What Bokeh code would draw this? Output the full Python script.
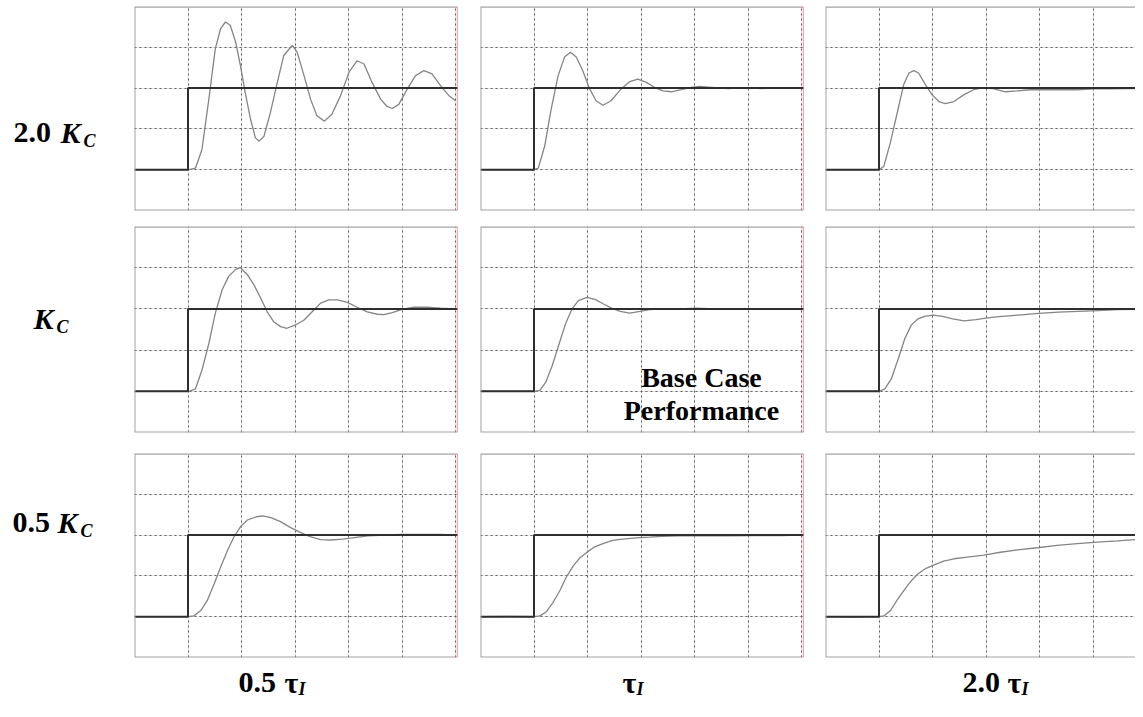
from bokeh.plotting import figure
from bokeh.models import Range1d, Span, Grid, FixedTicker
from bokeh.layouts import row, column
from bokeh.embed import file_html
from bokeh.resources import INLINE
from bokeh.core.properties import value

# ---------------- data ----------------
row_labels = ["2.0", "", "0.5"]          # multiplier of K_C per row
col_labels = ["0.5", "", "2.0"]          # multiplier of tau_I per column
annotation_lines = ["Base Case", "Performance"]

setpoint_t = [0, 1, 1, 6.1]
setpoint_y = [1, 1, 3, 3]

# row 1 : 2.0 Kc
r1c1_t = [0, 0.5, 1.02, 1.14, 1.26, 1.39, 1.51, 1.61, 1.70, 1.79, 1.89, 1.98, 2.07, 2.17, 2.26, 2.33, 2.42, 2.54, 2.67, 2.79, 2.95, 3.04,
          3.17, 3.29, 3.41, 3.55, 3.69, 3.85, 4.01, 4.16, 4.29, 4.44, 4.60, 4.72, 4.82, 4.94, 5.10, 5.25, 5.41, 5.56, 5.72, 5.88, 6.00]
r1c1_y = [1, 1, 1, 1.04, 1.49, 2.73, 3.96, 4.46, 4.62, 4.54, 4.13, 3.55, 2.89, 2.23, 1.78, 1.70, 1.82, 2.40, 3.14, 3.80, 4.05, 3.88,
          3.30, 2.73, 2.32, 2.19, 2.36, 2.81, 3.39, 3.67, 3.59, 3.14, 2.73, 2.55, 2.50, 2.60, 2.98, 3.30, 3.43, 3.35, 3.06, 2.81, 2.69]
r1c2_t = [0, 0.5, 1.0, 1.08, 1.20, 1.32, 1.45, 1.57, 1.68, 1.79, 1.91, 2.04, 2.16, 2.29, 2.44, 2.63, 2.79, 2.94, 3.10, 3.25,
          3.41, 3.57, 3.75, 3.94, 4.10, 4.31, 4.63, 4.94, 5.25, 5.56, 5.87, 6.0]
r1c2_y = [1, 1, 1, 1.04, 1.58, 2.48, 3.30, 3.76, 3.88, 3.76, 3.43, 2.98, 2.69, 2.58, 2.69, 2.98, 3.16, 3.22, 3.14, 3.02,
          2.93, 2.91, 2.96, 3.02, 3.04, 3.02, 2.99, 3.01, 2.99, 3.01, 3.0, 3.0]
r1c3_t = [0, 0.5, 1.0, 1.09, 1.21, 1.34, 1.46, 1.56, 1.65, 1.74, 1.87, 1.99, 2.12, 2.24, 2.40, 2.59, 2.77, 2.96, 3.15, 3.36,
          3.58, 3.83, 4.08, 4.39, 4.70, 5.02, 5.33, 5.64, 5.92]
r1c3_y = [1, 1, 1, 1.08, 1.65, 2.39, 3.08, 3.37, 3.43, 3.37, 3.08, 2.84, 2.67, 2.62, 2.67, 2.84, 2.96, 3.01, 2.98, 2.91,
          2.93, 2.96, 2.96, 2.96, 2.96, 2.98, 2.98, 2.99, 2.99]

# row 2 : Kc
r2c1_t = [0, 0.5, 1.02, 1.14, 1.26, 1.39, 1.51, 1.64, 1.76, 1.89, 1.98, 2.11, 2.23, 2.36, 2.48, 2.60, 2.73, 2.85, 3.01, 3.17,
          3.32, 3.48, 3.63, 3.79, 3.98, 4.16, 4.35, 4.54, 4.66, 4.82, 5.00, 5.22, 5.47, 5.72, 6.0]
r2c1_y = [1, 1, 1, 1.06, 1.51, 2.16, 2.89, 3.47, 3.79, 3.96, 4.0, 3.83, 3.59, 3.26, 2.93, 2.69, 2.57, 2.53, 2.61, 2.73,
          2.93, 3.14, 3.22, 3.22, 3.16, 3.04, 2.93, 2.87, 2.86, 2.91, 2.99, 3.04, 3.04, 3.02, 3.0]
r2c2_t = [0, 0.5, 1.0, 1.11, 1.22, 1.34, 1.46, 1.59, 1.71, 1.83, 1.99, 2.14, 2.30, 2.45, 2.61, 2.79, 2.98, 3.16, 3.41, 3.72,
          4.02, 4.40, 4.77, 5.14, 5.51, 6.0]
r2c2_y = [1, 1, 1, 1.02, 1.22, 1.62, 2.11, 2.64, 3.0, 3.20, 3.28, 3.23, 3.12, 3.02, 2.94, 2.90, 2.94, 2.98, 3.0, 3.0,
          3.02, 3.0, 3.0, 3.0, 3.0, 3.0]
r2c3_t = [0, 0.5, 1.0, 1.11, 1.23, 1.36, 1.48, 1.60, 1.73, 1.85, 2.01, 2.19, 2.38, 2.59, 2.81, 3.06, 3.30, 3.61, 3.98, 4.35,
          4.72, 5.09, 5.46, 5.96]
r2c3_y = [1, 1, 1, 1.06, 1.30, 1.79, 2.27, 2.60, 2.76, 2.82, 2.85, 2.82, 2.76, 2.71, 2.74, 2.79, 2.82, 2.85, 2.89, 2.92,
          2.94, 2.96, 2.98, 2.99]

# row 3 : 0.5 Kc
r3c1_t = [0, 0.5, 1.0, 1.11, 1.24, 1.36, 1.49, 1.61, 1.74, 1.86, 1.99, 2.11, 2.28, 2.40, 2.55, 2.73, 2.91, 3.11, 3.28, 3.48,
          3.67, 3.89, 4.11, 4.36, 4.67, 4.98, 5.36, 5.73, 6.0]
r3c1_y = [1, 1, 1, 1.02, 1.15, 1.40, 1.81, 2.22, 2.63, 2.96, 3.22, 3.37, 3.45, 3.47, 3.43, 3.33, 3.19, 3.06, 2.96, 2.89,
          2.88, 2.90, 2.94, 2.98, 3.0, 3.02, 3.02, 3.02, 3.0]
r3c2_t = [0, 0.5, 1.0, 1.11, 1.23, 1.35, 1.48, 1.60, 1.73, 1.85, 1.98, 2.13, 2.29, 2.47, 2.66, 2.91, 3.16, 3.40, 3.71, 4.15,
          4.65, 5.14, 5.64, 5.98]
r3c2_y = [1, 1.01, 1, 1.02, 1.12, 1.34, 1.63, 1.96, 2.24, 2.43, 2.57, 2.71, 2.79, 2.87, 2.90, 2.93, 2.95, 2.97, 2.98, 2.98,
          2.98, 2.99, 2.99, 3.0]
r3c3_t = [0, 0.5, 1.0, 1.09, 1.22, 1.34, 1.47, 1.59, 1.72, 1.87, 2.03, 2.21, 2.40, 2.65, 2.96, 3.27, 3.59, 3.96, 4.33, 4.71,
          5.08, 5.46, 5.92]
r3c3_y = [1, 0.99, 1, 1.02, 1.16, 1.41, 1.65, 1.86, 2.04, 2.18, 2.27, 2.36, 2.42, 2.46, 2.51, 2.58, 2.64, 2.69, 2.75, 2.79,
          2.83, 2.86, 2.90]

responses = [[(r1c1_t, r1c1_y), (r1c2_t, r1c2_y), (r1c3_t, r1c3_y)],
             [(r2c1_t, r2c1_y), (r2c2_t, r2c2_y), (r2c3_t, r2c3_y)],
             [(r3c1_t, r3c1_y), (r3c2_t, r3c2_y), (r3c3_t, r3c3_y)]]

# ---------------- layout / style ----------------
SERIF = value("Liberation Serif")
TOTAL_W, TOTAL_H = 1135, 701
LEFT_W = 124
UNIT_X = 53.5
FRAME_W = [323, 323, 310]
BORDER_L = [10, 10, 9]
BORDER_R = [13, 13, 0]
FRAME_H = [204, 206, 204]
BORDER_T = [6, 8, 8]
BORDER_B = [8, 13, 8]
GRID_C = "#5f5f5f"
FRAME_C = "#a4a4a4"
TEXT_SHIFT = 10      # px, compensates the glyph baseline placement


def panel(r, c):
    xend = FRAME_W[c] / UNIT_X
    p = figure(width=BORDER_L[c] + FRAME_W[c] + BORDER_R[c],
               height=BORDER_T[r] + FRAME_H[r] + BORDER_B[r],
               x_range=Range1d(0, xend), y_range=Range1d(0, 5),
               x_axis_location=None, y_axis_location=None,
               toolbar_location=None, output_backend="svg",
               min_border_left=BORDER_L[c], min_border_right=BORDER_R[c],
               min_border_top=BORDER_T[r], min_border_bottom=BORDER_B[r],
               outline_line_color=None)
    p.add_layout(Grid(dimension=0, ticker=FixedTicker(ticks=[1, 2, 3, 4, 5, 6]),
                      grid_line_color=GRID_C, grid_line_dash="2 3", grid_line_width=1))
    p.add_layout(Grid(dimension=1, ticker=FixedTicker(ticks=[1, 2, 3, 4]),
                      grid_line_color=GRID_C, grid_line_dash="2 3", grid_line_width=1))
    t, y = responses[r][c]
    p.line(t, y, line_color="#858585", line_width=1.3)
    p.line(setpoint_t, setpoint_y, line_color="#2e2e2e", line_width=2)
    p.add_layout(Span(location=5, dimension="width", line_color=FRAME_C, line_width=2.5))
    p.add_layout(Span(location=0, dimension="width", line_color=FRAME_C, line_width=2))
    p.add_layout(Span(location=0, dimension="height", line_color=FRAME_C, line_width=2))
    if c < 2:
        p.add_layout(Span(location=xend, dimension="height", line_color="#ff4a4a", line_width=1.2))
    return p


panels = [[panel(r, c) for c in range(3)] for r in range(3)]

# base-case annotation in the centre panel (baselines at picture y 387 / 420)
unit_y2 = FRAME_H[1] / 5
panels[1][1].text(x=[4.13, 4.13], y=[1.09 + TEXT_SHIFT / unit_y2, 0.29 + TEXT_SHIFT / unit_y2], text=annotation_lines,
                  text_font=SERIF, text_font_style="bold", text_font_size="28px",
                  text_align="center", text_baseline="alphabetic", text_color="black")

rows_h = sum(BORDER_T[i] + FRAME_H[i] + BORDER_B[i] for i in range(3))
LB = 2   # inner border of the label figures


def label_fig(w, h, y_top):
    # data coordinates: x = picture x, y = -(picture y)
    f = figure(width=w, height=h, x_range=Range1d(LB, w - LB),
               y_range=Range1d(-(y_top + h - LB), -(y_top + LB)),
               x_axis_location=None, y_axis_location=None, toolbar_location=None,
               output_backend="svg", min_border=LB, outline_line_color=None)
    f.grid.visible = False
    return f


def put(f, x, y, s, size, style):
    f.text(x=[x], y=[-(y - TEXT_SHIFT)], text=[s], text_font=SERIF, text_font_style=style,
           text_font_size=size, text_baseline="alphabetic", text_color="black")


# left row labels (baselines in picture pixels)
left = label_fig(LEFT_W, rows_h, 0)
lab_base = [142, 328, 532]
lab_num_x = [13, None, 12]
lab_k_x = [60, 33, 57]
for i in range(3):
    if row_labels[i]:
        put(left, lab_num_x[i], lab_base[i], row_labels[i], "30px", "bold")
    put(left, lab_k_x[i], lab_base[i], "K", "30px", "bold italic")
    put(left, lab_k_x[i] + 23, lab_base[i] + 8, "C", "18px", "bold italic")

# bottom column labels
bottom = label_fig(TOTAL_W, TOTAL_H - rows_h, rows_h)
bot_base = 692
bot_num_x = [238, None, 962]
bot_tau_x = [284, 622, 1007]
for i in range(3):
    if col_labels[i]:
        put(bottom, bot_num_x[i], bot_base, col_labels[i], "30px", "bold")
    put(bottom, bot_tau_x[i], bot_base, "τ", "30px", "bold")
    put(bottom, bot_tau_x[i] + 14, bot_base + 6, "I", "18px", "bold italic")

grid_col = column(*[row(*panels[r], spacing=0) for r in range(3)], spacing=0)
layout = column(row(left, grid_col, spacing=0), bottom, spacing=0)

open("out.html", "w").write(file_html(layout, INLINE))
